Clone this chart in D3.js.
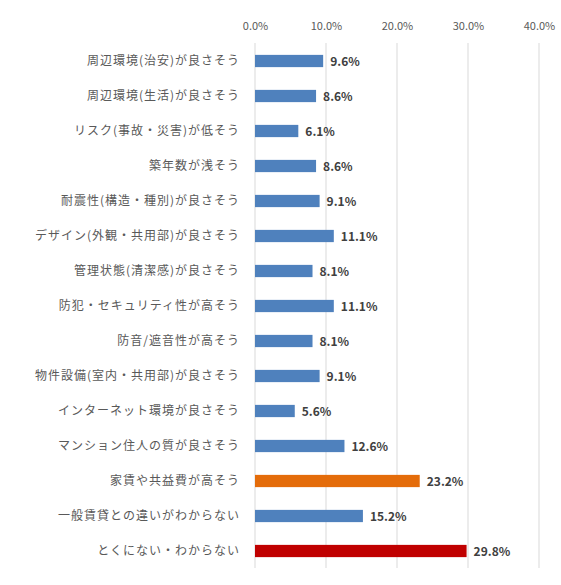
<!DOCTYPE html>
<html>
<head>
<meta charset="utf-8">
<script src="https://cdn.jsdelivr.net/npm/d3@7"></script>
<style>
  body { margin: 0; background: #fff; }
</style>
</head>
<body>
<div class="area"></div>
<script>
var categories = ['周辺環境(治安)が良さそう', '周辺環境(生活)が良さそう', 'リスク(事故・災害)が低そう',
  '築年数が浅そう', '耐震性(構造・種別)が良さそう', 'デザイン(外観・共用部)が良さそう',
  '管理状態(清潔感)が良さそう', '防犯・セキュリティ性が高そう', '防音/遮音性が高そう',
  '物件設備(室内・共用部)が良さそう', 'インターネット環境が良さそう', 'マンション住人の質が良さそう',
  '家賃や共益費が高そう', '一般賃貸との違いがわからない', 'とくにない・わからない'];
var values = [9.6, 8.6, 6.1, 8.6, 9.1, 11.1, 8.1, 11.1, 8.1, 9.1, 5.6, 12.6, 23.2, 15.2, 29.8];
var barColors = ['#4F81BD', '#4F81BD', '#4F81BD', '#4F81BD', '#4F81BD', '#4F81BD', '#4F81BD', '#4F81BD',
  '#4F81BD', '#4F81BD', '#4F81BD', '#4F81BD', '#E46C0A', '#4F81BD', '#C00000'];
var ticks = [0, 10, 20, 30, 40];

var font = "'Noto Sans CJK JP', 'Noto Sans', sans-serif";

var svg = d3.select(".area")
    .append("svg")
    .attr('width', 561)
    .attr('height', 585);

var x = d3.scaleLinear().domain([0, 40]).range([255, 539]);
var y = d3.scaleBand().domain(categories).range([43.5, 568.5]).paddingInner(0.65).paddingOuter(0.325);

// gridlines
svg.append("g")
    .selectAll("line")
    .data(ticks)
    .join("line")
    .attr("x1", d => x(d))
    .attr("x2", d => x(d))
    .attr("y1", 43)
    .attr("y2", 568)
    .style("stroke", "#d9d9d9")
    .style("stroke-width", 1);

// top axis labels
var axis = d3.axisTop(x).tickValues(ticks).tickSize(0).tickFormat(d => d.toFixed(1) + '%');
var ga = svg.append("g")
    .attr("transform", "translate(0,33)")
    .call(axis);
ga.select(".domain").remove();
ga.selectAll("text")
    .style("font-size", "11px")
    .attr("font-family", font)
    .attr("fill", "#595959");

// category labels
svg.append("g")
    .selectAll("text")
    .data(categories)
    .join("text")
    .attr("x", 240)
    .attr("y", d => y(d) + y.bandwidth() / 2)
    .attr("dy", "0.35em")
    .attr("text-anchor", "end")
    .style("font-size", "12px")
    .style("letter-spacing", "1px")
    .attr("font-family", font)
    .attr("fill", "#595959")
    .text(d => d);

// bars
svg.append("g")
    .selectAll("rect")
    .data(values)
    .join("rect")
    .attr("x", x(0))
    .attr("y", (d, i) => y(categories[i]))
    .attr("width", d => x(d) - x(0))
    .attr("height", y.bandwidth())
    .attr("fill", (d, i) => barColors[i]);

// value labels
svg.append("g")
    .selectAll("text")
    .data(values)
    .join("text")
    .attr("x", d => x(d) + 7)
    .attr("y", (d, i) => y(categories[i]) + y.bandwidth() / 2 + 1)
    .attr("dy", "0.35em")
    .style("font-size", "12px")
    .attr("font-weight", "bold")
    .attr("font-family", font)
    .attr("fill", "#404040")
    .text(d => d.toFixed(1) + '%');
</script>
</body>
</html>
